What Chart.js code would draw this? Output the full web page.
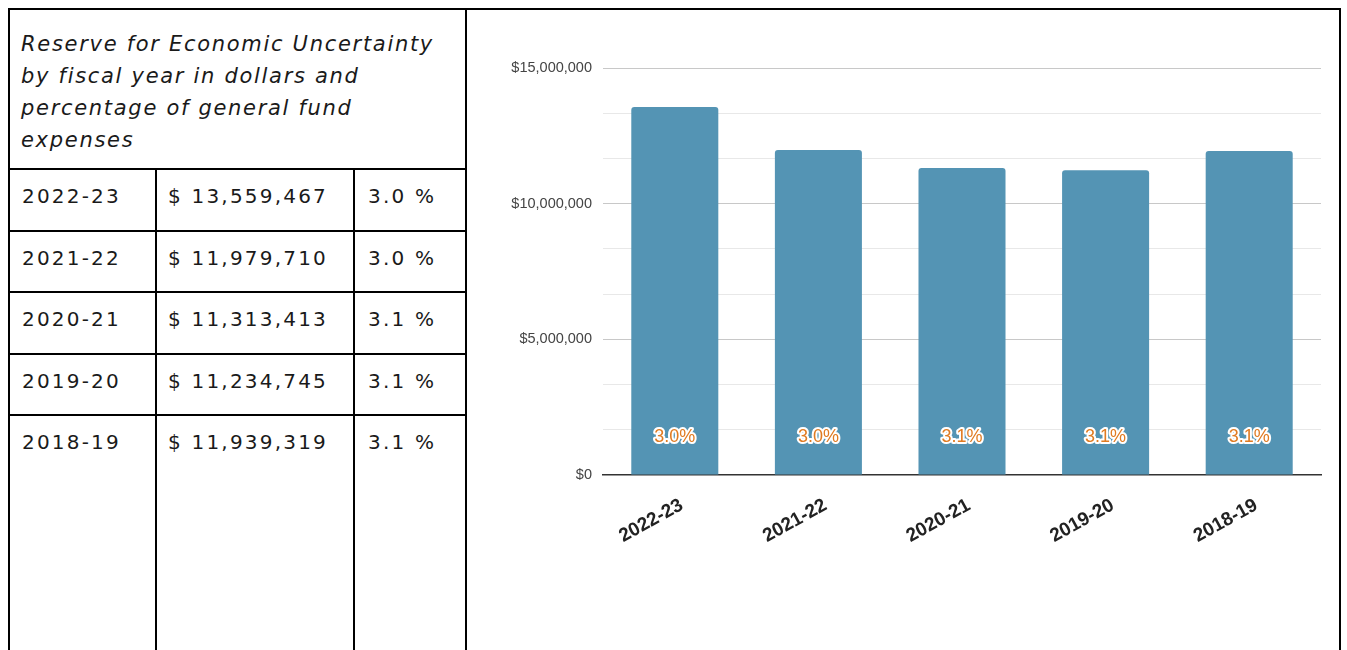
<!DOCTYPE html>
<html>
<head>
<meta charset="utf-8">
<script src="https://cdn.jsdelivr.net/npm/chart.js@4.4.1/dist/chart.umd.min.js"></script>
<style>
  html, body { margin:0; padding:0; background:#fff; width:1347px; height:650px; overflow:hidden; }
  .ln { position:absolute; background:#000; }
  .txt { position:absolute; font-family:"DejaVu Sans", sans-serif; font-size:20px; letter-spacing:2.2px; line-height:31.5px; color:#1a1a1a; white-space:nowrap; }
  .hdr { font-style:italic; font-size:21px; letter-spacing:1.7px; line-height:32px; }
  #chartBox { position:absolute; left:470px; top:12px; width:866px; height:638px; }
</style>
</head>
<body>
<div id="frame"></div>
<div id="chartBox"><canvas id="c"></canvas></div>
<script>
// ---- data ----
const categories = ['2022-23', '2021-22', '2020-21', '2019-20', '2018-19'];
const reserveDollars = [13559467, 11979710, 11313413, 11234745, 11939319];
const percentOfExpenses = [3.0, 3.0, 3.1, 3.1, 3.1];
const headerLines = ['Reserve for Economic Uncertainty', 'by fiscal year in dollars and', 'percentage of general fund', 'expenses'];
const yAxisMax = 15000000;
const yLabelStep = 5000000;
const yGridStep = yLabelStep / 3;

// ---- table frame (lines + text) ----
const frame = document.getElementById('frame');
function line(x, y, w, h) {
  const d = document.createElement('div');
  d.className = 'ln';
  d.style.left = x + 'px'; d.style.top = y + 'px';
  d.style.width = w + 'px'; d.style.height = h + 'px';
  frame.appendChild(d);
}
function text(x, y, s, cls) {
  const d = document.createElement('div');
  d.className = 'txt' + (cls ? ' ' + cls : '');
  d.style.left = x + 'px'; d.style.top = y + 'px';
  d.textContent = s;
  frame.appendChild(d);
}
// outer box
line(8, 8, 1333, 2);
line(8, 8, 2, 660);
line(1339, 8, 2, 660);
// separator between table and chart
line(465, 8, 2, 660);
// row lines
const rowLineY = [168, 229.5, 291, 352.5, 414];
rowLineY.forEach(y => line(8, y, 459, 2));
// column lines
line(154.5, 168, 2, 500);
line(353, 168, 2, 500);

headerLines.forEach((s, i) => text(21, 27.5 + i * 32, s, 'hdr'));
categories.forEach((cat, i) => {
  const top = 181 + i * 61.5;
  text(22, top, cat);
  text(168, top, '$ ' + reserveDollars[i].toLocaleString('en-US'));
  text(368, top, percentOfExpenses[i].toFixed(1) + ' %');
});

// ---- chart ----
const pctLabels = {
  id: 'pctLabels',
  afterDatasetsDraw(chart) {
    const { ctx } = chart;
    const yScale = chart.scales.y;
    const meta = chart.getDatasetMeta(0);
    const base = yScale.getPixelForValue(0);
    ctx.save();
    ctx.font = '18px "Liberation Sans", Arial, sans-serif';
    ctx.textAlign = 'center';
    ctx.textBaseline = 'middle';
    ctx.lineJoin = 'round';
    ctx.lineWidth = 4;
    ctx.strokeStyle = '#ffffff';
    ctx.fillStyle = '#e07b22';
    meta.data.forEach((bar, i) => {
      const t = percentOfExpenses[i].toFixed(1) + '%';
      const yy = base - 38;
      ctx.strokeText(t, bar.x, yy);
      ctx.fillText(t, bar.x, yy);
    });
    ctx.restore();
  }
};

function isLabelTick(v) {
  const r = v / yLabelStep;
  return Math.abs(r - Math.round(r)) < 1e-6;
}

new Chart(document.getElementById('c'), {
  type: 'bar',
  data: {
    labels: categories,
    datasets: [{
      data: reserveDollars,
      backgroundColor: '#5494b4',
      borderRadius: { topLeft: 3, topRight: 3 },
      borderSkipped: 'start',
      categoryPercentage: 1,
      barPercentage: 0.606
    }]
  },
  options: {
    responsive: true,
    maintainAspectRatio: false,
    animation: false,
    layout: { padding: { top: 56, right: 15, bottom: 0, left: 0 } },
    plugins: { legend: { display: false }, tooltip: { enabled: false } },
    scales: {
      y: {
        min: 0,
        max: yAxisMax,
        afterFit(scale) { scale.width = 133; },
        border: { display: false },
        grid: {
          drawTicks: false,
          color(ctx) {
            if (!ctx.tick) return '#e6e6e6';
            if (ctx.tick.value === 0) return 'rgba(0,0,0,0)';
            return isLabelTick(ctx.tick.value) ? '#c8c8c8' : '#e8e8e8';
          },
          lineWidth: 1
        },
        ticks: {
          stepSize: yGridStep,
          padding: 11,
          color: '#444',
          font: { family: '"Liberation Sans", Arial, sans-serif', size: 14.5 },
          callback(v) {
            if (!isLabelTick(v)) return '';
            return '$' + Math.round(v).toLocaleString('en-US');
          }
        }
      },
      x: {
        afterFit(scale) { scale.height = 175; },
        border: { display: true, color: '#333', width: 1.5 },
        grid: { display: false },
        ticks: {
          maxRotation: 29,
          minRotation: 29,
          labelOffset: 7,
          padding: 11,
          color: '#222',
          font: { family: '"Liberation Sans", Arial, sans-serif', size: 19, weight: 'bold' }
        }
      }
    }
  },
  plugins: [pctLabels]
});
</script>
</body>
</html>
